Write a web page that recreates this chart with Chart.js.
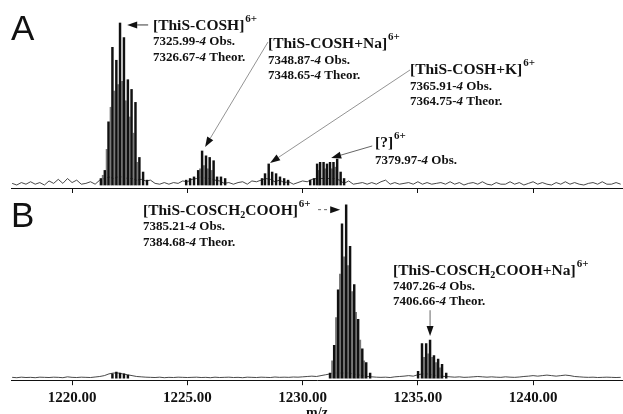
<!DOCTYPE html>
<html>
<head>
<meta charset="utf-8">
<script src="https://cdn.jsdelivr.net/npm/chart.js@4/dist/chart.umd.min.js"></script>
<style>
html, body { margin: 0; padding: 0; background: #fff; overflow: hidden; width: 623px; height: 414px; }
#wrapA { position: absolute; left: 0; top: 0; width: 623px; height: 194px; }
#wrapB { position: absolute; left: 0; top: 193px; width: 623px; height: 229px; }
</style>
</head>
<body>
<div id="wrapA"><canvas id="chartA" width="623" height="194"></canvas></div>
<div id="wrapB"><canvas id="chartB" width="623" height="229"></canvas></div>
<script>
// m/z axis
const tickStep = 5;
const xMin = 1217.35;
const xMax = 1243.9;

// panel A: isotope sticks (m/z, relative intensity %)
const peaksAmz = [
    1221.25, 1221.42, 1221.58, 1221.75, 1221.92, 1222.08, 1222.25, 1222.42, 1222.58, 1222.75, 1222.92, 1223.08, 1223.25,
    1224.95, 1225.12, 1225.29, 1225.47, 1225.64, 1225.81, 1225.97, 1226.14, 1226.29, 1226.46, 1226.64,
    1228.24, 1228.37, 1228.53, 1228.68, 1228.85, 1229.02, 1229.20, 1229.37,
    1230.33, 1230.50, 1230.63, 1230.76, 1230.91, 1231.06, 1231.19, 1231.34, 1231.50, 1231.65, 1231.80
];
const peaksAint = [
    4, 9, 39, 85, 77, 100, 91, 65, 59, 51, 17, 8, 3,
    3, 4, 5, 9, 21, 18, 17, 15, 5, 5, 4,
    4, 7, 13, 8, 7, 5, 4, 3,
    3, 4, 13, 14, 14, 13, 14, 14, 16, 8, 4
];
// panel A: lighter in-between profile lines
const shoulderAmz = [1221.33, 1221.50, 1221.67, 1221.83, 1222.00, 1222.17, 1222.33, 1222.50, 1222.67, 1222.83, 1225.55, 1225.72, 1225.89, 1226.06, 1230.70, 1230.98, 1231.27, 1231.42];
const shoulderAint = [6, 22, 48, 58, 62, 64, 52, 42, 32, 14, 10, 12, 10, 9, 9, 10, 10, 11];

// panel B: isotope sticks
const peaksBmz = [
    1221.75, 1221.92, 1222.08, 1222.25, 1222.42,
    1231.19, 1231.37, 1231.54, 1231.71, 1231.89, 1232.06, 1232.24, 1232.41, 1232.59, 1232.76, 1232.93,
    1235.01, 1235.18, 1235.36, 1235.53, 1235.70, 1235.88, 1236.05, 1236.23
];
const peaksBint = [
    2.5, 3.5, 3, 2.5, 1.8,
    3, 19, 51, 89, 100, 76, 54, 34, 17, 9, 3,
    4, 20, 20, 22, 13, 11, 8, 3
];
const shoulderBmz = [1231.28, 1231.45, 1231.62, 1231.80, 1231.97, 1232.15, 1232.32, 1232.50, 1232.67, 1235.27, 1235.45, 1235.62, 1235.79, 1235.96];
const shoulderBint = [10, 35, 60, 70, 65, 50, 38, 22, 10, 12, 14, 12, 9, 6];

// baseline noise, sampled every 0.2 m/z from 1217.4
const noiseStart = 1217.4;
const noiseStep = 0.2;
const noiseA = [
    1, 0, 1.5, 0.5, 2, 0.5, 1.5, 0, 2.5, 1,
    3.5, 1, 4, 1.5, 3, 0.5, 1, 2, 0.5, 3,
    4, 5, 4, 5, 5, 4, 4, 3, 3.5, 2.5,
    3, 1, 0.5, 1.5, 0.5, 1.5, 1, 2.5, 2, 3.5,
    4, 5, 4, 4, 3, 2.5, 1, 1.5, 0.5, 1.5,
    2, 0.5, 2.5, 2, 3, 4, 3.5, 2, 3, 1.5,
    2, 0.5, 1.5, 2.5, 2, 3.5, 4, 4, 4, 4,
    4, 3, 1, 2.5, 0.5, 1, 1.5, 0.5, 1.5, 0.5,
    2, 3, 0.5, 1.5, 0.5, 1, 1.5, 0.5, 2, 0.5,
    1.5, 0.5, 1, 1.5, 0.5, 2, 0.5, 1.5, 0, 1,
    1.5, 0.5, 2, 0.5, 0, 1.5, 0.5, 0.5, 2, 0.5,
    1.5, 0, 1, 2, 0.5, 1.5, 0.5, 0, 1.5, 0.5,
    2, 0.5, 1.5, 0.5, 0, 1, 1.5, 0.5, 2, 0.5,
    0.5, 1.5, 0.5
];
const noiseB = [
    0.5, 0.3, 0.6, 0.4, 0.5, 0.3, 0.6, 0.5, 0.4, 0.6,
    0.5, 0.3, 0.8, 0.5, 0.4, 0.6, 0.5, 0.4, 0.7, 1,
    1.5, 2.5, 3, 3, 2.5, 2, 1.5, 1, 0.8, 0.6,
    0.5, 0.4, 0.6, 0.3, 0.5, 0.4, 0.6, 0.5, 0.4, 0.5,
    0.6, 0.4, 0.5, 0.3, 0.6, 0.4, 0.5, 0.6, 0.4, 0.5,
    0.3, 0.6, 0.5, 0.4, 0.6, 0.5, 0.4, 0.7, 0.5, 0.6,
    0.5, 0.7, 0.6, 0.8, 1, 1.2, 1, 1.5, 2, 2.5,
    3, 3, 3, 3, 2.5, 2, 1.5, 1, 0.8, 0.6,
    0.5, 0.6, 0.4, 0.8, 1, 1.2, 1.5, 1.2, 2, 2.5,
    2.5, 2, 1.5, 1.2, 1, 0.8, 0.6, 0.8, 0.5, 0.6,
    0.8, 1, 0.8, 0.6, 0.8, 0.6, 0.5, 0.8, 0.6, 0.5,
    0.7, 1, 1.2, 1.5, 1.2, 1.5, 1.8, 1.5, 1.2, 1.5,
    1.8, 1.5, 1, 0.8, 0.6, 0.5, 0.6, 0.4, 0.5, 0.6,
    0.5, 0.4, 0.5
];

// text styles
const F_HEAD = 'bold 15.5px "Liberation Serif"';
const F_SUP = 'bold 11px "Liberation Serif"';
const F_SUB = 'bold 10px "Liberation Serif"';
const F_NUM = 'bold 13px "Liberation Serif"';
const F_NUMI = 'italic bold 13px "Liberation Serif"';
const F_PANEL = '35px "Liberation Sans"';

function species(parts) {
    // parts: plain strings, or {sub: '2'}
    let out = parts.map(p => typeof p === 'string' ? { t: p, f: F_HEAD } : { t: p.sub, f: F_SUB, dy: 3 });
    out.push({ t: '6+', f: F_SUP, dy: -8, gap: 1 });
    return out;
}
function mass(value, kind) {
    return [{ t: value + '-', f: F_NUM }, { t: '4', f: F_NUMI }, { t: ' ' + kind, f: F_NUM }];
}

const notesA = {
    panel: { t: 'A', x: 11, y: 40 },
    labels: [
        { x: 153, y: 30, parts: species(['[ThiS-COSH]']) },
        { x: 153, y: 45, parts: mass('7325.99', 'Obs.') },
        { x: 153, y: 61, parts: mass('7326.67', 'Theor.') },
        { x: 268, y: 48, parts: species(['[ThiS-COSH+Na]']) },
        { x: 268, y: 64, parts: mass('7348.87', 'Obs.') },
        { x: 268, y: 79, parts: mass('7348.65', 'Theor.') },
        { x: 410, y: 74, parts: species(['[ThiS-COSH+K]']) },
        { x: 410, y: 90, parts: mass('7365.91', 'Obs.') },
        { x: 410, y: 105, parts: mass('7364.75', 'Theor.') },
        { x: 375, y: 147, parts: species(['[?]']) },
        { x: 375, y: 164, parts: mass('7379.97', 'Obs.') }
    ],
    arrows: [
        { from: [1223.30, 98.8], to: [1222.39, 98.8], color: '#222' },
        { from: [1228.50, 88.3], to: [1225.77, 23.5], color: '#888' },
        { from: [1234.66, 71], to: [1228.59, 13.6], color: '#888' },
        { from: [1233.02, 24.1], to: [1231.24, 16.7], color: '#555' }
    ]
};
const notesB = {
    panel: { t: 'B', x: 11, y: 34 },
    labels: [
        { x: 143, y: 22, parts: species(['[ThiS-COSCH', { sub: '2' }, 'COOH]']) },
        { x: 143, y: 37, parts: mass('7385.21', 'Obs.') },
        { x: 143, y: 53, parts: mass('7384.68', 'Theor.') },
        { x: 393, y: 82, parts: species(['[ThiS-COSCH', { sub: '2' }, 'COOH+Na]']) },
        { x: 393, y: 97, parts: mass('7407.26', 'Obs.') },
        { x: 393, y: 112, parts: mass('7406.66', 'Theor.') }
    ],
    arrows: [
        { from: [1230.67, 97.2], to: [1231.63, 97.2], color: '#555', dash: [3, 3] },
        { from: [1235.53, 39.2], to: [1235.53, 24.4], color: '#555' }
    ]
};

function drawRich(ctx, x, y, parts) {
    let cx = x;
    parts.forEach(p => {
        cx += p.gap || 0;
        ctx.font = p.f;
        ctx.fillText(p.t, cx, y + (p.dy || 0));
        cx += ctx.measureText(p.t).width;
    });
}

function drawArrow(ctx, x1, y1, x2, y2, color, dash) {
    const ang = Math.atan2(y2 - y1, x2 - x1);
    const len = 10, half = 3.5;
    const bx = x2 - len * Math.cos(ang), by = y2 - len * Math.sin(ang);
    ctx.strokeStyle = color;
    ctx.lineWidth = 0.9;
    ctx.setLineDash(dash || []);
    ctx.beginPath();
    ctx.moveTo(x1, y1);
    ctx.lineTo(bx, by);
    ctx.stroke();
    ctx.setLineDash([]);
    ctx.fillStyle = '#111';
    ctx.beginPath();
    ctx.moveTo(x2, y2);
    ctx.lineTo(bx - half * Math.sin(ang), by + half * Math.cos(ang));
    ctx.lineTo(bx + half * Math.sin(ang), by - half * Math.cos(ang));
    ctx.closePath();
    ctx.fill();
}

const notesPlugin = {
    id: 'notes',
    afterDraw(chart, args, opts) {
        const ctx = chart.ctx;
        const xs = chart.scales.x, ys = chart.scales.y;
        ctx.save();
        ctx.textBaseline = 'alphabetic';
        ctx.textAlign = 'left';
        ctx.fillStyle = '#111';
        ctx.font = F_PANEL;
        ctx.fillText(opts.panel.t, opts.panel.x, opts.panel.y);
        opts.labels.forEach(l => drawRich(ctx, l.x, l.y, l.parts));
        opts.arrows.forEach(a => drawArrow(ctx,
            xs.getPixelForValue(a.from[0]), ys.getPixelForValue(a.from[1]),
            xs.getPixelForValue(a.to[0]), ys.getPixelForValue(a.to[1]), a.color, a.dash));
        ctx.restore();
    }
};

function sticks(mz, inten) {
    return mz.map((m, i) => ({ x: m, y: inten[i] }));
}
function noise(values) {
    return values.map((v, i) => ({ x: noiseStart + i * noiseStep, y: v }));
}

function makeChart(id, yMin, yMax, showLabels, data, notes) {
    return new Chart(document.getElementById(id), {
        type: 'bar',
        data: {
            datasets: [
                { type: 'line', data: noise(data.noise), borderColor: '#333', borderWidth: 0.9, pointRadius: 0, tension: 0, order: 3 },
                { data: sticks(data.shMz, data.shInt), backgroundColor: '#7a7a7a', barThickness: 1.2, grouped: false, order: 2 },
                { data: sticks(data.mz, data.int), backgroundColor: '#111', barThickness: 1.8, grouped: false, order: 1 }
            ]
        },
        options: {
            responsive: false,
            animation: false,
            devicePixelRatio: 1,
            layout: { padding: { left: 11, right: 0, top: 0, bottom: showLabels ? 0 : 1 } },
            plugins: { legend: { display: false }, tooltip: { enabled: false }, notes: notes },
            scales: {
                x: {
                    type: 'linear',
                    min: xMin,
                    max: xMax,
                    offset: false,
                    grid: { offset: false, drawOnChartArea: false, drawTicks: true, tickLength: 5, color: '#111', tickColor: '#111' },
                    border: { display: true, color: '#111', width: 1 },
                    ticks: {
                        display: showLabels,
                        stepSize: tickStep,
                        includeBounds: false,
                        autoSkip: false,
                        maxRotation: 0,
                        padding: 4,
                        color: '#111',
                        font: { family: '"Liberation Serif"', size: 15, weight: 'bold' },
                        callback: v => v.toFixed(2)
                    },
                    title: {
                        display: showLabels,
                        text: 'm/z',
                        color: '#111',
                        padding: { top: -6, bottom: 0 },
                        font: { family: '"Liberation Serif"', size: 14, weight: 'bold' }
                    }
                },
                y: { display: false, min: yMin, max: yMax }
            }
        },
        plugins: [notesPlugin]
    });
}

makeChart('chartA', -1.85, 114.2, false,
    { mz: peaksAmz, int: peaksAint, shMz: shoulderAmz, shInt: shoulderAint, noise: noiseA }, notesA);
makeChart('chartB', -1.14, 106.8, true,
    { mz: peaksBmz, int: peaksBint, shMz: shoulderBmz, shInt: shoulderBint, noise: noiseB }, notesB);
</script>
</body>
</html>
